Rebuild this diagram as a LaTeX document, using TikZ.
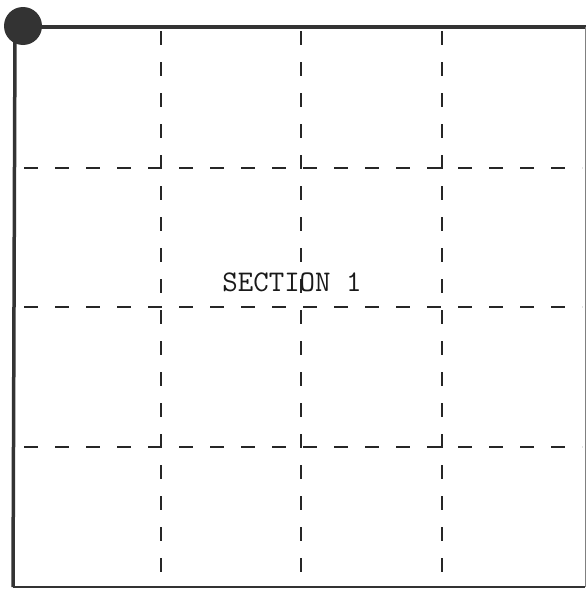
\documentclass[tikz,border=0pt]{standalone}
\begin{document}
\begin{tikzpicture}[x=1pt,y=-1pt,
  frame/.style={line width=3.5pt,color=black!80},
  grid/.style={line width=2.1pt,color=black!85,dash pattern=on 14pt off 17pt},
  label/.style={font=\ttfamily\fontsize{30}{30}\selectfont,color=black!90}]
\useasboundingbox (0,0) rectangle (586,589);
\fill[white] (0,0) rectangle (586,589);
\coordinate (tl) at (15,27);
\coordinate (tr) at (586,27);
\coordinate (bl) at (13,587);
\coordinate (br) at (585,587);
\coordinate (rt) at (585,27);
% frame
\draw[frame] (tl) -- (tr);
\draw[frame] (tl) -- (bl);
\draw[line width=2.2pt,color=black!80] (bl) -- (br);
\draw[line width=1pt,color=black!50] (rt) -- (br);
\node[circle,fill=black!80,minimum size=38pt,inner sep=0pt] (dot) at (23,26) {};
% grid
\foreach \x/\n in {161/a,301/b,442/c}{
  \coordinate (v\n t) at (\x,29);
  \coordinate (v\n b) at (\x,587);
  \draw[grid,dash phase=-2pt] (v\n t) -- (v\n b);
}
\foreach \y/\n in {168/a,307/b,447/c}{
  \coordinate (h\n l) at (24,\y);
  \coordinate (h\n r) at (582,\y);
  \draw[grid] (h\n l) -- (h\n r);
}
\node[label] (sec) at (292,282) {SECTION 1};
\end{tikzpicture}
\end{document}
